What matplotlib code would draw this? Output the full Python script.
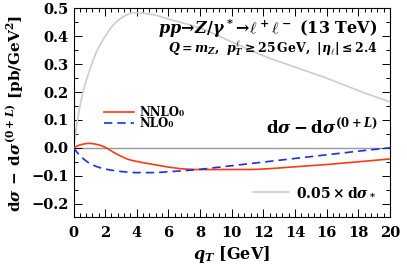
import numpy as np
import matplotlib
matplotlib.use("Agg")
import matplotlib.pyplot as plt
from matplotlib.ticker import MultipleLocator, FuncFormatter

plt.rcParams['mathtext.fontset'] = 'custom'
plt.rcParams['mathtext.rm'] = 'DejaVu Serif:bold'
plt.rcParams['mathtext.bf'] = 'DejaVu Serif:bold'
plt.rcParams['mathtext.it'] = 'DejaVu Serif:italic:bold'
plt.rcParams['mathtext.cal'] = 'DejaVu Serif:bold'
plt.rcParams['mathtext.sf'] = 'DejaVu Serif:bold'
plt.rcParams['font.family'] = ['DejaVu Serif']
plt.rcParams['font.weight'] = 'bold'

# data
qt_gray = [0, 0.1, 0.25, 0.6, 1.15, 1.5, 2.0, 2.5, 3.0, 3.8, 5, 6, 8, 10, 12, 14, 16, 18, 20]
gray = [0, 0.04, 0.1, 0.2, 0.3, 0.35, 0.4, 0.44, 0.465, 0.485, 0.478, 0.462, 0.43, 0.38, 0.33, 0.29, 0.25, 0.205, 0.165]

qt_red = [0, 0.5, 1, 1.5, 2, 2.5, 3, 3.5, 4, 5, 6, 7, 8, 9, 10, 11, 12, 14, 16, 18, 20]
nnlo = [0, 0.012, 0.016, 0.012, 0.002, -0.015, -0.03, -0.042, -0.049, -0.059, -0.069,
        -0.076, -0.078, -0.078, -0.078, -0.078, -0.076, -0.068, -0.06, -0.05, -0.04]

qt_blue = [0, 0.25, 0.5, 1, 1.5, 2, 3, 4, 5, 6, 7, 8, 10, 12, 14, 16, 18, 20]
nlo = [0, -0.018, -0.033, -0.055, -0.068, -0.076, -0.085, -0.089, -0.089, -0.086, -0.082,
       -0.077, -0.064, -0.051, -0.038, -0.025, -0.012, 0.0]

def smooth(x, y):
    xs = np.linspace(min(x), max(x), 400)
    x = np.asarray(x, float); y = np.asarray(y, float)
    h = np.diff(x); d = np.diff(y) / h
    m = np.zeros_like(y)
    for k in range(1, len(x) - 1):
        if d[k - 1] * d[k] > 0:
            w1 = 2 * h[k] + h[k - 1]; w2 = h[k] + 2 * h[k - 1]
            m[k] = (w1 + w2) / (w1 / d[k - 1] + w2 / d[k])
    m[0] = d[0]; m[-1] = d[-1]
    idx = np.clip(np.searchsorted(x, xs) - 1, 0, len(x) - 2)
    t = (xs - x[idx]) / h[idx]
    h00 = 2*t**3 - 3*t**2 + 1; h10 = t**3 - 2*t**2 + t
    h01 = -2*t**3 + 3*t**2; h11 = t**3 - t**2
    ys = h00*y[idx] + h10*h[idx]*m[idx] + h01*y[idx+1] + h11*h[idx]*m[idx+1]
    return xs, ys

fig = plt.figure(figsize=(4.07, 2.72), dpi=100)
ax = fig.add_axes([0.1806, 0.2004, 0.958 - 0.1806, 0.9688 - 0.2004])

ax.axhline(0, color='#999999', lw=1.0, zorder=1)
xg, yg = smooth(qt_gray, gray)
ax.plot(xg, yg, color='#cccccc', lw=1.2, zorder=2)
xr, yr = smooth(qt_red, nnlo)
ax.plot(xr, yr, color='#ff3a10', lw=1.2, zorder=3)
xb, yb = smooth(qt_blue, nlo)
ax.plot(xb, yb, color='#1a2ef0', lw=1.2, ls=(0, (5, 3)), zorder=3)

ax.set_xlim(0, 20)
ax.set_ylim(-0.25, 0.5)
ax.xaxis.set_major_locator(MultipleLocator(2))
ax.xaxis.set_minor_locator(MultipleLocator(0.4))
ax.yaxis.set_major_locator(MultipleLocator(0.1))
ax.yaxis.set_minor_locator(MultipleLocator(0.05))
ax.tick_params(which='both', direction='in', top=True, right=True, labelsize=10.5)
ax.tick_params(which='major', length=6, width=0.7)
ax.tick_params(which='minor', length=3, width=0.7)
ax.xaxis.set_major_formatter(FuncFormatter(lambda v, p: '%d' % round(v)))
def yf(v, p):
    s = '%.1f' % v
    if s == '-0.0':
        s = '0.0'
    return s.replace('-', '\u2212')
ax.yaxis.set_major_formatter(FuncFormatter(yf))
ax.tick_params(axis='x', pad=6)
for sp in ax.spines.values():
    sp.set_linewidth(0.8)

ax.set_xlabel(r'$q_T\ \mathrm{[GeV]}$', fontsize=11.5, labelpad=3)
ax.set_ylabel(r'$\mathrm{d}\sigma\,-\,\mathrm{d}\sigma^{(0+L)}\ \mathrm{[pb/GeV^2]}$', fontsize=11, labelpad=4)

ax.text(0.962, 0.905, r'$pp\!\rightarrow\!Z/\gamma^*\!\rightarrow\!\ell^+\ell^-\ \mathrm{(13\ TeV)}$',
        transform=ax.transAxes, ha='right', va='center', fontsize=11.5)
ax.text(0.962, 0.81, r'$Q=m_Z,\ p_T^\ell\geq \mathrm{25\,GeV},\ |\eta_\ell|\leq \mathrm{2.4}$',
        transform=ax.transAxes, ha='right', va='center', fontsize=9)
ax.text(0.962, 0.43, r'$\mathrm{d}\sigma-\mathrm{d}\sigma^{(0+L)}$',
        transform=ax.transAxes, ha='right', va='center', fontsize=12)

# legends
l1, = ax.plot([], [], color='#ff3a10', lw=1.2, label='NNLO\u2080')
l2, = ax.plot([], [], color='#1a2ef0', lw=1.2, ls=(0, (5, 3)), label='NLO\u2080')
leg = ax.legend(handles=[l1, l2], loc='upper left', bbox_to_anchor=(0.095, 0.535),
                frameon=False, prop={'size': 8.5, 'weight': 'bold'}, handlelength=2.55,
                handletextpad=0.45, labelspacing=-0.1, borderaxespad=0, borderpad=0)
ax.add_artist(leg)
l3, = ax.plot([], [], color='#cccccc', lw=1.2, label=r'$\mathrm{0.05}\times\mathrm{d}\sigma_*$')
ax.legend(handles=[l3], loc='lower right', bbox_to_anchor=(0.975, 0.06), frameon=False,
          fontsize=10, handlelength=2.6, handletextpad=0.5, borderaxespad=0)

fig.savefig('out.png', dpi=100)
